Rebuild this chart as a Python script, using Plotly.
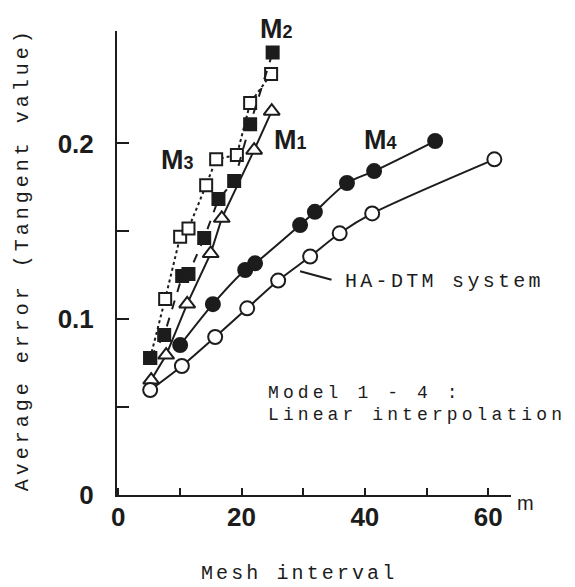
import plotly.graph_objects as go

# ---- data ----
m1_x = [5.35, 7.78, 11.19, 15.0, 16.8, 22.05, 24.9]
m1_y = [0.0654, 0.0796, 0.1087, 0.1374, 0.1574, 0.1962, 0.2184]

m2_x = [5.19, 7.46, 10.38, 11.4, 13.95, 16.26, 18.81, 21.4, 25.05]
m2_y = [0.0779, 0.0910, 0.1246, 0.1257, 0.1462, 0.1684, 0.1786, 0.2110, 0.2517]

m3_x = [5.19, 7.62, 10.05, 11.4, 14.27, 15.89, 19.25, 21.4, 24.8]
m3_y = [0.0779, 0.1115, 0.1469, 0.1517, 0.1763, 0.1911, 0.1934, 0.2230, 0.2395]

m4_x = [10.05, 15.36, 20.6, 22.2, 29.5, 31.9, 37.1, 41.5, 51.4]
m4_y = [0.0853, 0.1086, 0.128, 0.1318, 0.1536, 0.1611, 0.1775, 0.1843, 0.2014]

ha_x = [5.19, 10.33, 15.73, 20.92, 25.94, 31.13, 35.92, 41.19, 61.0]
ha_y = [0.0597, 0.0734, 0.0899, 0.1062, 0.1220, 0.1357, 0.1489, 0.1602, 0.1910]

x_tickvals = [0, 10, 20, 30, 40, 50, 60]
x_ticktext = ["0", "", "20", "", "40", "", "60"]
y_tickvals = [0, 0.05, 0.1, 0.15, 0.2]
y_ticktext = ["0", "", "0.1", "", "0.2"]

INK = "#1c1c1c"
MONO = "Liberation Mono"
SANS = "Liberation Sans"


def spaced(text, ls):
    return "<span style='letter-spacing:%.1fpx'>%s</span>" % (ls, text)


fig = go.Figure()


def add(xs, ys, name, symbol, fill, dash, size, shape="linear"):
    fig.add_trace(go.Scatter(
        x=xs, y=ys, name=name, mode="lines+markers",
        line=dict(color=INK, width=2, dash=dash, shape=shape, smoothing=0.8),
        marker=dict(symbol=symbol, size=size, color=fill,
                    line=dict(color=INK, width=2)),
        showlegend=False, cliponaxis=False,
    ))


add(m3_x, m3_y, "M3", "square", "white", "dot", 12)
add(m1_x, m1_y, "M1", "triangle-up", "white", "solid", 14)
add(m2_x, m2_y, "M2", "square", INK, "dash", 12)
add(m4_x, m4_y, "M4", "circle", INK, "solid", 14, "spline")
add(ha_x, ha_y, "HA-DTM", "circle", "white", "solid", 14, "spline")

MFONT = dict(family=SANS, size=27, color=INK, weight="bold")


def mtext(d):
    return "M<span style='font-size:18px'>%s</span>" % d


annotations = [
    dict(x=0.404, y=1.004, xref="paper", yref="paper", xanchor="center", yanchor="middle",
         showarrow=False, text=mtext("2"), font=MFONT),
    dict(x=9.6, y=0.1906, xref="x", yref="y", showarrow=False, text=mtext("3"), font=MFONT),
    dict(x=27.9, y=0.202, xref="x", yref="y", showarrow=False, text=mtext("1"), font=MFONT),
    dict(x=42.6, y=0.202, xref="x", yref="y", showarrow=False, text=mtext("4"), font=MFONT),
    dict(x=36.5, y=0.1213, xref="x", yref="y", xanchor="left", showarrow=False,
         text=spaced("HA-DTM system", 3.3), font=dict(family=MONO, size=20, color=INK)),
    dict(x=24.0, y=0.058, xref="x", yref="y", xanchor="left", showarrow=False,
         text=spaced("Model 1 - 4 :", 4.1), font=dict(family=MONO, size=18, color=INK)),
    dict(x=24.0, y=0.0455, xref="x", yref="y", xanchor="left", showarrow=False,
         text=spaced("Linear interpolation", 4.1), font=dict(family=MONO, size=18, color=INK)),
    dict(x=1.038, y=-0.0172, xref="paper", yref="paper", xanchor="center", yanchor="middle",
         showarrow=False, text="m", font=dict(family=SANS, size=20, color=INK)),
    # axis titles
    dict(x=0.462, y=-0.1700, xref="paper", yref="paper", xanchor="center", yanchor="middle",
         showarrow=False, text=spaced("Mesh interval", 3.1),
         font=dict(family=MONO, size=20, color=INK)),
    dict(x=-0.241, y=0.508, xref="paper", yref="paper", xanchor="center", yanchor="middle",
         textangle=-90, showarrow=False, text=spaced("Average error (Tangent value)", 4.0),
         font=dict(family=MONO, size=20, color=INK)),
]

# the page adds an 8px body margin, so the figure is 8px smaller and its
# left/top margins 8px tighter; the plot area lands where the reference has it
fig.update_layout(
    width=567, height=579,
    margin=dict(l=109, r=64, t=23, b=92),
    paper_bgcolor="white", plot_bgcolor="white",
    annotations=annotations,
    shapes=[dict(type="line", xref="x", yref="y", x0=29.5, y0=0.1273, x1=34.6, y1=0.1225,
                 line=dict(color=INK, width=2))],
    xaxis=dict(
        range=[-0.19, 63.7], showgrid=False, zeroline=False,
        showline=True, linecolor=INK, linewidth=2,
        tickmode="array", tickvals=x_tickvals, ticktext=x_ticktext,
        ticks="inside", ticklen=7, tickwidth=2, tickcolor=INK,
        ticklabelstandoff=-2,
        tickfont=dict(family=SANS, size=26, color=INK, weight="bold"),
    ),
    yaxis=dict(
        range=[0, 0.264], showgrid=False, zeroline=False,
        showline=True, linecolor=INK, linewidth=2,
        tickmode="array", tickvals=y_tickvals, ticktext=y_ticktext,
        ticks="inside", ticklen=12, tickwidth=2, tickcolor=INK,
        ticklabelstandoff=16,
        tickfont=dict(family=SANS, size=26, color=INK, weight="bold"),
    ),
)

fig.write_html("out.html")
